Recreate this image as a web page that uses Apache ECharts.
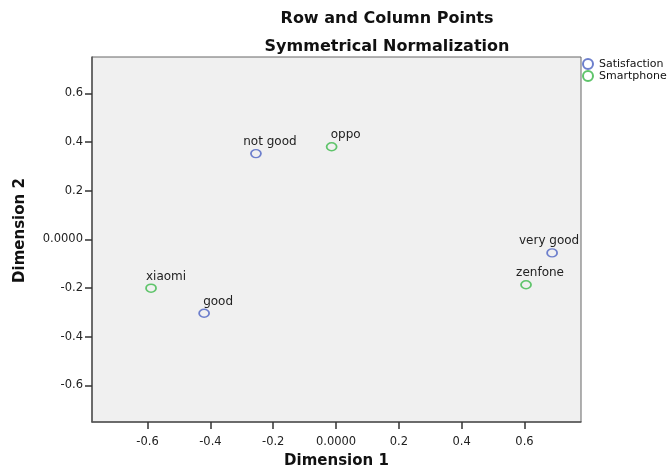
<!DOCTYPE html>
<html>
<head>
<meta charset="utf-8">
<script src="https://cdn.jsdelivr.net/npm/echarts@6/dist/echarts.min.js"></script>
<style>html,body{margin:0;padding:0;background:#fff}#c{width:670px;height:465px}</style>
</head>
<body>
<div id="c"></div>
<script>
// Data
const satisfactionNames = ['not good', 'good', 'very good'];
const satisfactionX = [-0.255, -0.420, 0.688];
const satisfactionY = [0.353, -0.303, -0.055];
const smartphoneNames = ['xiaomi', 'oppo', 'zenfone'];
const smartphoneX = [-0.589, -0.014, 0.605];
const smartphoneY = [-0.200, 0.381, -0.186];
const tickValues = [-0.6, -0.4, -0.2, 0, 0.2, 0.4, 0.6];

// Label horizontal offsets (layout only)
const satisfactionLabelDx = [14, 14, -3];
const smartphoneLabelDx = [15, 14, 14];

const FONT = 'DejaVu Sans';
const fmt = v => Math.abs(v) < 1e-9 ? '0.0000' : v.toFixed(1);

function build(names, xs, ys, dxs) {
  return names.map((n, i) => ({
    name: n,
    value: [xs[i], ys[i]],
    label: { offset: [dxs[i], 0] }
  }));
}

const chart = echarts.init(document.getElementById('c'), null, { renderer: 'canvas' });
const axisCommon = {
  type: 'value',
  splitLine: { show: false },
  axisLine: { show: true, onZero: false, lineStyle: { color: '#555', width: 1.5 } },
  axisTick: { show: true, length: 7, lineStyle: { color: '#333', width: 1.5 }, customValues: tickValues },
  axisLabel: { color: '#222', fontFamily: FONT, fontSize: 11.5, customValues: tickValues, formatter: fmt },
  nameLocation: 'middle',
  nameTextStyle: { color: '#111', fontFamily: FONT, fontWeight: 'bold', fontSize: 15 }
};

chart.setOption({
  animation: false,
  backgroundColor: '#ffffff',
  title: {
    text: 'Row and Column Points\nSymmetrical Normalization',
    left: 387, top: 5, textAlign: 'center', padding: 0,
    textStyle: { fontFamily: FONT, fontWeight: 'bold', fontSize: 16, color: '#111', lineHeight: 28 }
  },
  legend: {
    orient: 'vertical', left: 582, top: 58, padding: 0,
    itemWidth: 12, itemHeight: 10, itemGap: 0,
    textStyle: { fontFamily: FONT, fontSize: 11, color: '#111', lineHeight: 11 },
    data: ['Satisfaction', 'Smartphone']
  },
  grid: {
    left: 92, top: 57, width: 489, height: 365,
    outerBoundsMode: 'none', containLabel: false,
    show: true, backgroundColor: '#f0f0f0', borderColor: '#666', borderWidth: 1
  },
  xAxis: Object.assign({}, axisCommon, {
    min: -0.777, max: 0.78,
    name: 'Dimension 1', nameGap: 32,
    axisLabel: Object.assign({}, axisCommon.axisLabel, { margin: 14 })
  }),
  yAxis: Object.assign({}, axisCommon, {
    min: -0.75, max: 0.75,
    name: 'Dimension 2', nameGap: 64,
    nameTextStyle: Object.assign({}, axisCommon.nameTextStyle, { padding: [0, 0, 0, 18] }),
    axisLabel: Object.assign({}, axisCommon.axisLabel, { margin: 9 })
  }),
  series: [
    {
      name: 'Satisfaction', type: 'scatter', symbol: 'circle', symbolSize: [10, 8],
      itemStyle: { color: 'rgba(0,0,0,0)', borderColor: '#6d7fcc', borderWidth: 1.6, opacity: 1 },
      label: { show: true, position: 'top', distance: 1, formatter: '{b}', fontFamily: FONT, fontSize: 12, color: '#222' },
      data: build(satisfactionNames, satisfactionX, satisfactionY, satisfactionLabelDx)
    },
    {
      name: 'Smartphone', type: 'scatter', symbol: 'circle', symbolSize: [10, 8],
      itemStyle: { color: 'rgba(0,0,0,0)', borderColor: '#5fc46b', borderWidth: 1.6, opacity: 1 },
      label: { show: true, position: 'top', distance: 1, formatter: '{b}', fontFamily: FONT, fontSize: 12, color: '#222' },
      data: build(smartphoneNames, smartphoneX, smartphoneY, smartphoneLabelDx)
    }
  ]
});
</script>
</body>
</html>
